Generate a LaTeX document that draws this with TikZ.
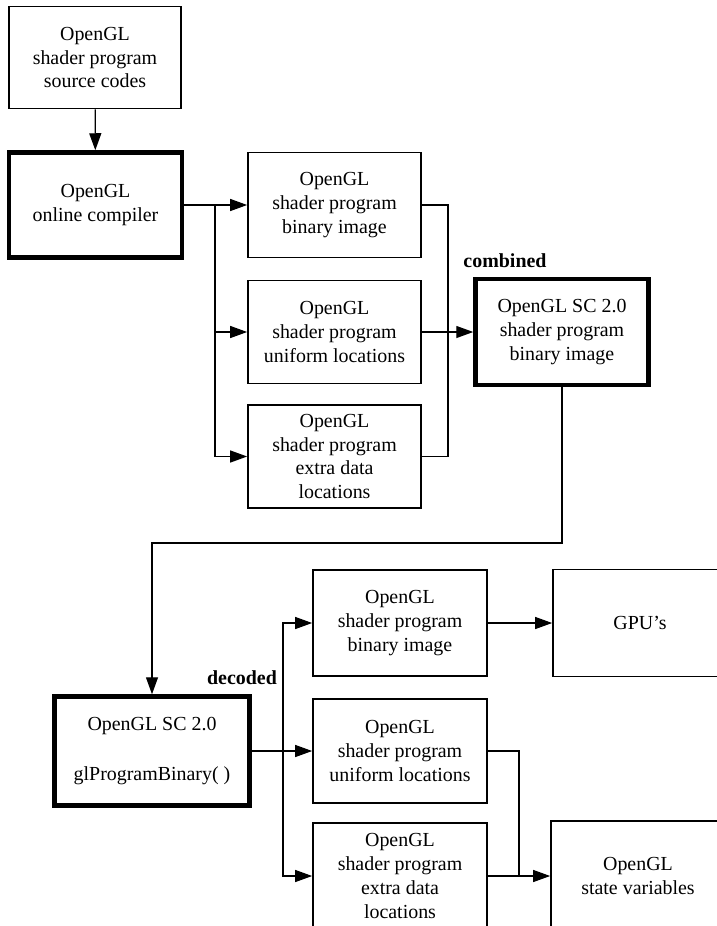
\documentclass[tikz,border=0pt]{standalone}
\usepackage{fontspec}
\setmainfont{Liberation Serif}
\usetikzlibrary{arrows.meta}
\begin{document}
\begin{tikzpicture}[x=1bp,y=-1bp,
  box/.style={draw=black, line width=1.7bp, fill=white, align=center,
    minimum width=173bp, inner sep=0pt,
    font=\fontsize{20}{24}\selectfont},
  thickbox/.style={box, line width=4.5bp},
  conn/.style={draw=black, line width=1.3bp},
  arr/.style={conn, -{Triangle[length=17bp,width=12bp]}},
  tag/.style={font=\fontsize{20}{24}\selectfont\bfseries, inner sep=0pt}]
\useasboundingbox (0,0) rectangle (717,926);
\clip (0,0) rectangle (717,926);

% compile stage
\node[box, minimum width=172bp, minimum height=102bp] (A) at (95,57.5)
  {OpenGL\\shader program\\source codes};
\node[thickbox, minimum height=105bp] (B) at (95.5,205)
  {OpenGL\\online compiler};
\node[box, minimum height=105bp] (C1) at (334.5,205)
  {OpenGL\\shader program\\binary image};
\node[box, minimum height=103bp] (C2) at (334.5,332)
  {OpenGL\\shader program\\uniform locations};
\node[box, minimum height=103bp] (C3) at (334.5,456.5)
  {OpenGL\\shader program\\extra data\\locations};
\node[thickbox, minimum height=106bp] (D) at (562,332)
  {OpenGL SC 2.0\\shader program\\binary image};
\node[tag] (comb) at (505,261) {combined};

% load stage
\node[thickbox, minimum width=195bp, minimum height=109bp] (E) at (152,751)
  {OpenGL SC 2.0\\[26bp]glProgramBinary( )};
\node[box, minimum width=174bp, minimum height=106bp] (F1) at (400,623)
  {OpenGL\\shader program\\binary image};
\node[box, minimum width=174bp, minimum height=104bp] (F2) at (400,751)
  {OpenGL\\shader program\\uniform locations};
\node[box, minimum width=174bp, minimum height=106bp] (F3) at (400,876)
  {OpenGL\\shader program\\extra data\\locations};
\node[box, minimum width=174bp, minimum height=107bp] (G) at (640,623)
  {GPU’s};
\node[box, minimum width=174bp, minimum height=110bp] (H) at (638,876)
  {OpenGL\\state variables};
\node[tag] (dec) at (242,678) {decoded};

% connectors, compile stage
\draw[arr] (A) -- (B);
\coordinate (tr) at (215,205);
\draw[arr] (B) -- (C1);
\draw[arr] (tr) |- (C2.west);
\draw[arr] (tr) |- (C3.west);
\coordinate (col) at (448,456.5);
\draw[conn] (C1.east) -| (col) -- (C3.east);
\draw[arr] (C2) -- (D);

% hand-over to the loader
\coordinate (dk) at (0,543);
\draw[arr] (D.south) -- (D.south |- dk) -| (E.north);

% connectors, load stage
\coordinate (tr2) at (283,751);
\draw[arr] (E) -- (F2);
\draw[arr] (tr2) |- (F1.west);
\draw[arr] (tr2) |- (F3.west);
\draw[arr] (F1) -- (G);
\coordinate (col2) at (519,876);
\draw[conn] (F2.east) -| (col2);
\draw[arr] (F3) -- (H);
\end{tikzpicture}
\end{document}
